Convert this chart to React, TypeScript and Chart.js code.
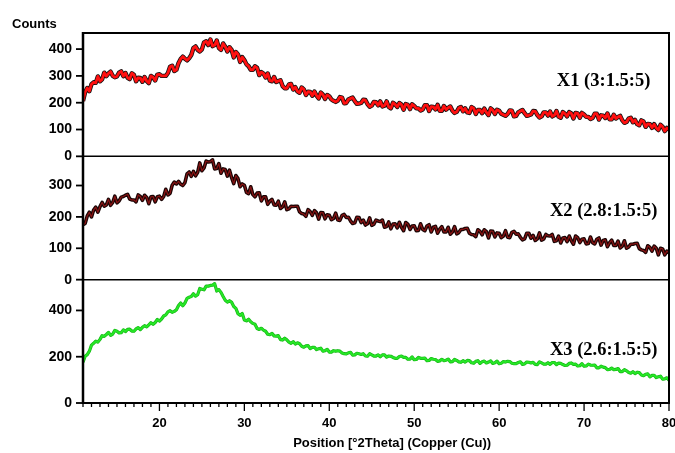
import { useEffect, useRef } from 'react';
import { Chart, registerables } from 'chart.js';

Chart.register(...registerables);

// Diffraction scans sampled every 0.25 °2θ starting at 11 °2θ (one row = 5 °2θ)
const START_ANGLE = 11;
const ANGLE_STEP = 0.25;
const X_MIN = 11;
const X_MAX = 80;

const X1_COUNTS = [
  206, 239, 255, 243, 269, 276, 274, 298, 280, 287, 312, 299, 309, 316, 300, 295, 298, 312, 317, 299,
  311, 293, 288, 310, 304, 280, 293, 292, 278, 296, 281, 273, 300, 295, 283, 305, 306, 300, 300, 300,
  311, 334, 338, 318, 323, 348, 363, 372, 364, 358, 366, 378, 404, 410, 397, 391, 399, 425, 429, 415,
  436, 411, 415, 432, 404, 397, 421, 409, 391, 407, 397, 369, 389, 380, 352, 370, 359, 343, 336, 323,
  323, 336, 330, 303, 314, 309, 294, 309, 282, 280, 296, 277, 281, 284, 262, 254, 254, 268, 270, 249,
  258, 242, 237, 257, 250, 229, 241, 240, 226, 242, 226, 216, 238, 230, 214, 229, 224, 212, 207, 203,
  208, 221, 219, 198, 199, 212, 216, 219, 206, 196, 197, 199, 211, 210, 195, 185, 189, 203, 202, 190,
  205, 186, 189, 205, 184, 179, 200, 194, 184, 199, 193, 174, 195, 192, 176, 194, 188, 179, 179, 171,
  175, 191, 191, 169, 185, 184, 175, 192, 170, 170, 188, 174, 181, 186, 170, 162, 166, 180, 184, 168,
  179, 164, 162, 184, 179, 158, 173, 173, 161, 178, 164, 154, 179, 172, 158, 174, 170, 159, 155, 151,
  158, 171, 170, 149, 151, 164, 169, 173, 161, 151, 153, 156, 169, 168, 154, 145, 149, 164, 164, 152,
  167, 149, 153, 169, 148, 144, 165, 159, 149, 165, 160, 141, 162, 160, 144, 162, 156, 147, 147, 139,
  143, 159, 159, 137, 153, 152, 143, 160, 138, 138, 155, 141, 147, 151, 134, 125, 128, 141, 144, 127,
  136, 120, 116, 134, 130, 110, 121, 120, 106, 120, 106, 98, 118, 110, 94, 106, 100,
];

const X2_COUNTS = [
  175, 179, 203, 215, 200, 222, 231, 215, 233, 246, 234, 238, 256, 237, 246, 266, 245, 251, 263, 265,
  269, 272, 257, 254, 254, 248, 270, 265, 253, 269, 262, 242, 264, 265, 248, 264, 266, 256, 265, 288,
  270, 275, 301, 311, 305, 313, 304, 300, 309, 337, 343, 329, 345, 331, 342, 372, 347, 356, 378, 375,
  376, 382, 353, 354, 370, 339, 353, 351, 330, 349, 325, 306, 332, 322, 296, 305, 301, 278, 274, 296,
  271, 264, 276, 277, 251, 264, 264, 240, 250, 256, 238, 237, 250, 227, 232, 248, 223, 226, 234, 233,
  234, 234, 216, 211, 209, 202, 223, 217, 205, 220, 213, 193, 214, 213, 194, 207, 205, 191, 195, 212,
  190, 189, 205, 208, 198, 199, 187, 179, 181, 199, 198, 182, 190, 174, 178, 197, 173, 177, 190, 187,
  185, 190, 167, 169, 184, 162, 177, 178, 165, 183, 167, 156, 182, 177, 160, 171, 172, 156, 157, 178,
  160, 156, 171, 175, 152, 167, 170, 148, 161, 169, 152, 152, 167, 145, 152, 169, 146, 150, 160, 160,
  163, 164, 148, 144, 143, 137, 159, 154, 143, 159, 153, 133, 155, 154, 136, 149, 148, 134, 139, 156,
  135, 134, 151, 154, 145, 146, 135, 127, 130, 148, 148, 132, 141, 125, 130, 149, 126, 130, 144, 140,
  139, 144, 122, 124, 139, 117, 133, 134, 121, 139, 124, 113, 139, 134, 118, 129, 130, 114, 115, 136,
  118, 114, 129, 133, 110, 125, 127, 105, 118, 126, 109, 109, 123, 101, 107, 124, 100, 104, 113, 113,
  115, 116, 99, 95, 93, 87, 108, 103, 91, 107, 100, 79, 100, 98, 79, 91, 86,
];

const X3_COUNTS = [
  176, 202, 209, 224, 250, 258, 267, 263, 275, 291, 288, 296, 305, 292, 298, 314, 310, 303, 304, 316,
  309, 318, 319, 311, 310, 320, 326, 317, 327, 334, 329, 338, 347, 340, 348, 361, 354, 363, 376, 381,
  394, 399, 392, 396, 403, 421, 432, 420, 432, 452, 457, 460, 472, 462, 468, 495, 492, 489, 505, 505,
  508, 509, 516, 484, 490, 478, 460, 444, 436, 442, 435, 417, 409, 386, 379, 387, 359, 355, 362, 351,
  344, 340, 322, 318, 323, 315, 310, 297, 295, 301, 290, 289, 291, 274, 272, 280, 273, 263, 258, 265,
  255, 260, 256, 245, 241, 247, 248, 235, 240, 241, 231, 234, 237, 224, 226, 232, 220, 220, 226, 224,
  226, 224, 216, 213, 212, 217, 219, 207, 208, 215, 213, 210, 213, 203, 202, 213, 208, 203, 203, 208,
  200, 208, 208, 198, 203, 202, 197, 193, 193, 201, 203, 197, 197, 189, 190, 199, 187, 188, 197, 193,
  193, 194, 183, 184, 192, 189, 188, 180, 182, 189, 183, 185, 190, 178, 179, 188, 184, 178, 176, 183,
  177, 184, 183, 174, 172, 180, 183, 171, 178, 181, 173, 177, 182, 171, 174, 181, 170, 172, 179, 177,
  180, 179, 172, 170, 170, 175, 178, 167, 169, 177, 176, 173, 176, 167, 166, 178, 173, 168, 168, 174,
  167, 175, 175, 166, 172, 171, 166, 162, 163, 171, 173, 167, 168, 160, 161, 170, 159, 160, 168, 164,
  163, 164, 152, 152, 159, 155, 153, 144, 145, 151, 144, 145, 149, 136, 136, 144, 139, 132, 129, 135,
  127, 133, 131, 121, 118, 124, 126, 113, 119, 120, 110, 113, 116, 103, 104, 109, 98,
];

const SAMPLE_NAMES = ['X1 (3:1.5:5)', 'X2 (2.8:1.5:5)', 'X3 (2.6:1.5:5)'];
const PANEL_AXES = ['y1', 'y2', 'y3'];
const PANEL_MAX = [460, 393, 533];
const PANEL_TICKS = [
  [0, 100, 200, 300, 400],
  [0, 100, 200, 300],
  [0, 200, 400],
];
const X_TICKS = [20, 30, 40, 50, 60, 70, 80];
// where each sample name sits: [°2θ, counts on its own panel]
const NAME_ANCHOR_ANGLE = 72.3;
const NAME_ANCHOR_COUNTS = [262, 202, 209];

const Y_LABEL = 'Counts';
const X_LABEL = 'Position [°2Theta] (Copper (Cu))';
const X_LABEL_CENTER = 47.4;

const toPoints = (counts: number[]) =>
  counts.map((c, i) => ({ x: START_ANGLE + i * ANGLE_STEP, y: c }));

const SANS = '"Liberation Sans", Arial, sans-serif';
const SERIF = '"Liberation Serif", "Times New Roman", serif';

const framePlugin = {
  id: 'xrdFrame',
  afterDatasetsDraw(chart: any) {
    const { ctx, chartArea } = chart;
    const { left, right, top, bottom } = chartArea;
    const xs = chart.scales.x;
    const panels = PANEL_AXES.map((id) => chart.scales[id]);
    const line = (x1: number, y1: number, x2: number, y2: number) => {
      ctx.beginPath();
      ctx.moveTo(x1, y1);
      ctx.lineTo(x2, y2);
      ctx.stroke();
    };
    ctx.save();
    ctx.strokeStyle = '#000';
    ctx.lineCap = 'butt';

    // outer box
    ctx.lineWidth = 2;
    line(left - 1, top, right + 1, top);
    line(right, top, right, bottom);
    line(left - 1, bottom, right + 1, bottom);
    ctx.lineWidth = 2.5;
    line(left, top - 1, left, bottom + 1);

    // baselines separating the panels
    ctx.lineWidth = 1.5;
    panels.forEach((s: any) => {
      const y = s.getPixelForValue(0);
      if (y < bottom - 2) line(left, y, right, y);
    });

    // count ticks on each panel
    ctx.lineWidth = 1.8;
    panels.forEach((s: any) => {
      s.ticks.forEach((t: any) => {
        const y = s.getPixelForValue(t.value);
        line(left - 7, y, left, y);
      });
    });

    // angle ticks: majors every 10°, minors every 1°
    ctx.lineWidth = 1.3;
    for (let v = Math.ceil(xs.min); v <= xs.max; v++) {
      const x = xs.getPixelForValue(v);
      line(x, bottom, x, bottom + (v % 10 === 0 ? 8 : 4));
    }

    // sample names
    ctx.fillStyle = '#000';
    ctx.font = `bold 18.5px ${SERIF}`;
    ctx.textAlign = 'center';
    ctx.textBaseline = 'alphabetic';
    panels.forEach((s: any, i: number) => {
      ctx.fillText(
        SAMPLE_NAMES[i],
        xs.getPixelForValue(NAME_ANCHOR_ANGLE),
        s.getPixelForValue(NAME_ANCHOR_COUNTS[i])
      );
    });

    // axis titles
    ctx.font = `bold 13px ${SANS}`;
    ctx.textAlign = 'left';
    ctx.fillText(Y_LABEL, 12, 28);
    ctx.textAlign = 'center';
    ctx.textBaseline = 'middle';
    ctx.fillText(X_LABEL, xs.getPixelForValue(X_LABEL_CENTER), 443);
    ctx.restore();
  },
};

export default function App() {
  const canvasRef = useRef<HTMLCanvasElement | null>(null);

  useEffect(() => {
    const canvas = canvasRef.current;
    if (!canvas) return;

    const line = (data: any, axis: string, color: string, width: number, order: number) => ({
      data,
      yAxisID: axis,
      borderColor: color,
      backgroundColor: color,
      borderWidth: width,
      borderJoinStyle: 'round' as const,
      pointRadius: 0,
      tension: 0,
      fill: false,
      order,
    });

    const x1 = toPoints(X1_COUNTS);
    const x2 = toPoints(X2_COUNTS);
    const x3 = toPoints(X3_COUNTS);

    const yAxis = (i: number) => ({
      type: 'linear' as const,
      position: 'left' as const,
      stack: 'panels',
      stackWeight: 1,
      min: 0,
      max: PANEL_MAX[i],
      grid: { display: false, drawTicks: false },
      border: { display: false },
      afterBuildTicks: (s: any) => {
        s.ticks = PANEL_TICKS[i].map((value) => ({ value }));
      },
      ticks: {
        autoSkip: false,
        padding: 11,
        color: '#000',
        font: { family: SANS, size: 14, weight: 'bold' as const },
      },
      afterFit: (s: any) => {
        s.width = 83;
        s.paddingTop = 0;
        s.paddingBottom = 0;
      },
    });

    const chart = new Chart(canvas, {
      type: 'line',
      data: {
        datasets: [
          line(x1, 'y1', '#111', 4.4, 2),
          line(x1, 'y1', '#ff1010', 2.8, 1),
          line(x2, 'y2', '#1a0505', 3.6, 2),
          line(x2, 'y2', '#8a1414', 1.2, 1),
          line(x3, 'y3', '#14b414', 3.2, 2),
          line(x3, 'y3', '#26e626', 2, 1),
        ],
      },
      options: {
        responsive: false,
        maintainAspectRatio: false,
        animation: false,
        layout: { padding: { top: 33, right: 6, bottom: 0, left: 0 } },
        plugins: {
          legend: { display: false },
          tooltip: { enabled: false },
        },
        scales: {
          x: {
            type: 'linear',
            min: X_MIN,
            max: X_MAX,
            grid: { display: false, drawTicks: false },
            border: { display: false },
            afterBuildTicks: (s: any) => {
              s.ticks = X_TICKS.map((value) => ({ value }));
            },
            ticks: {
              autoSkip: false,
              padding: 13,
              maxRotation: 0,
              color: '#000',
              font: { family: SANS, size: 13, weight: 'bold' },
            },
            afterFit: (s: any) => {
              s.height = 50;
              s.paddingLeft = 0;
              s.paddingRight = 0;
            },
          },
          // stacked panels are laid out bottom-up, so the lowest panel comes first
          y3: yAxis(2),
          y2: yAxis(1),
          y1: yAxis(0),
        },
      },
      plugins: [framePlugin],
    });

    return () => chart.destroy();
  }, []);

  return (
    <div style={{ position: 'absolute', left: 0, top: 0, width: 675, height: 453, background: '#fff' }}>
      <canvas ref={canvasRef} width={675} height={453} />
    </div>
  );
}
